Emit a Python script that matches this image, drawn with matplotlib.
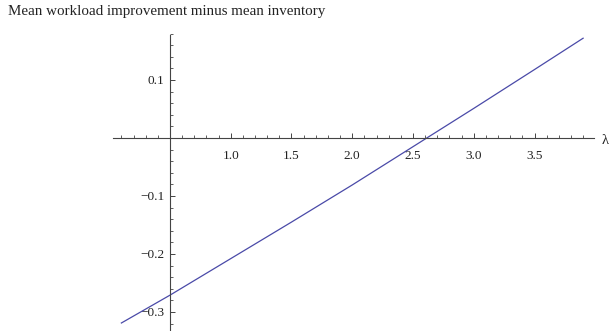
import matplotlib
matplotlib.use("Agg")
import matplotlib.pyplot as plt
from matplotlib.ticker import FixedLocator, FixedFormatter

plt.rcParams['font.family'] = ['Liberation Serif', 'DejaVu Serif']

lam = [0.1, 0.5, 1.0, 1.5, 2.0, 2.5, 3.0, 3.5, 3.9]
diff = [-0.319, -0.271, -0.208, -0.145, -0.081, -0.015, 0.051, 0.118, 0.172]

x_major = [1.0, 1.5, 2.0, 2.5, 3.0, 3.5]
x_labels = ["1.0", "1.5", "2.0", "2.5", "3.0", "3.5"]
y_major = [-0.3, -0.2, -0.1, 0.1]
y_labels = ["\u22120.3", "\u22120.2", "\u22120.1", "0.1"]

title = "Mean workload improvement minus mean inventory"
xlabel = "\u03bb"

W, H = 613, 331
fig = plt.figure(figsize=(W / 100, H / 100), dpi=100)
ax = fig.add_axes([0, 0, 1, 1])

ax.plot(lam, diff, color='#4a4aa8', lw=0.9)

ax.set_xlim(-0.899, 4.146)
ax.set_ylim(-0.3328, 0.2379)

for s in ['top', 'right']:
    ax.spines[s].set_visible(False)
ax.spines['left'].set_position(('data', 0.5))
ax.spines['bottom'].set_position(('data', 0.0))
ax.spines['bottom'].set_bounds(0.03, 3.99)
ax.spines['left'].set_bounds(-0.335, 0.178)
for s in ['left', 'bottom']:
    ax.spines[s].set_color('#444444')
    ax.spines[s].set_linewidth(0.8)

ax.xaxis.set_major_locator(FixedLocator(x_major))
ax.xaxis.set_major_formatter(FixedFormatter(x_labels))
ax.xaxis.set_minor_locator(FixedLocator([round(0.1 * i, 1) for i in range(1, 40)]))
ax.yaxis.set_major_locator(FixedLocator(y_major))
ax.yaxis.set_major_formatter(FixedFormatter(y_labels))
ax.yaxis.set_minor_locator(FixedLocator([round(-0.32 + 0.02 * i, 2) for i in range(0, 26)]))

ax.tick_params(which='major', direction='in', length=3.5, width=0.7, color='#444444',
               labelsize=9.5, pad=4)
ax.tick_params(which='minor', direction='in', length=2, width=0.6, color='#444444')
ax.tick_params(axis='x', which='major', pad=9)
ax.tick_params(axis='both', which='both', labelcolor='#222222')

fig.text(8 / W, 1 - 12 / H, title, fontsize=10.8, va='center', ha='left', color='#222222')
fig.text(602 / W, 1 - 141 / H, xlabel, fontsize=10.5, va='center', ha='left', color='#222222')

fig.savefig("out.png", dpi=100)
